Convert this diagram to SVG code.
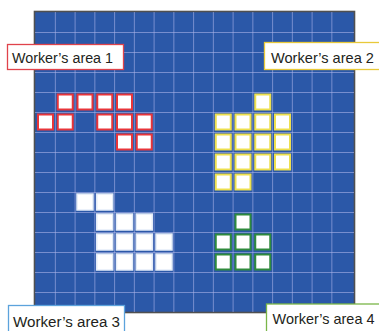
<svg xmlns="http://www.w3.org/2000/svg" width="379" height="331" viewBox="0 0 379 331">
<style>
.grid line{stroke:#aab2e8;stroke-opacity:0.6;stroke-width:1}
.sq{stroke-width:2}
.red rect.sq{fill:#fff;stroke:#e8353a}
.yel rect.sq{fill:#fff;stroke:#eee04e}
.wht rect.sq{fill:#fff;stroke:#e4ecf8;stroke-width:1.5}
.grn rect.sq{fill:#fff;stroke:#2f8a3c}
.lbl{fill:#fff;stroke-width:1.3}
.lt{font-family:"Liberation Sans","Open Sans",sans-serif;font-size:15.5px;fill:#231f20}
.rt{font-size:15px}
</style>
<rect width="379" height="331" fill="#fff"/>
<g id="board">
<rect x="34.5" y="11.5" width="320" height="301" fill="#2b58a8" stroke="#505050" stroke-width="1.6"/>
<g class="grid">
<line x1="55.35" y1="12" x2="55.35" y2="312"/>
<line x1="75.1" y1="12" x2="75.1" y2="312"/>
<line x1="94.85" y1="12" x2="94.85" y2="312"/>
<line x1="114.6" y1="12" x2="114.6" y2="312"/>
<line x1="134.35" y1="12" x2="134.35" y2="312"/>
<line x1="154.1" y1="12" x2="154.1" y2="312"/>
<line x1="173.85" y1="12" x2="173.85" y2="312"/>
<line x1="193.6" y1="12" x2="193.6" y2="312"/>
<line x1="213.35" y1="12" x2="213.35" y2="312"/>
<line x1="233.1" y1="12" x2="233.1" y2="312"/>
<line x1="252.85" y1="12" x2="252.85" y2="312"/>
<line x1="272.6" y1="12" x2="272.6" y2="312"/>
<line x1="292.35" y1="12" x2="292.35" y2="312"/>
<line x1="312.1" y1="12" x2="312.1" y2="312"/>
<line x1="331.85" y1="12" x2="331.85" y2="312"/>
<line x1="35" y1="32.5" x2="354" y2="32.5"/>
<line x1="35" y1="52.5" x2="354" y2="52.5"/>
<line x1="35" y1="72.5" x2="354" y2="72.5"/>
<line x1="35" y1="92.5" x2="354" y2="92.5"/>
<line x1="35" y1="112.5" x2="354" y2="112.5"/>
<line x1="35" y1="132.5" x2="354" y2="132.5"/>
<line x1="35" y1="152.5" x2="354" y2="152.5"/>
<line x1="35" y1="172.5" x2="354" y2="172.5"/>
<line x1="35" y1="192.5" x2="354" y2="192.5"/>
<line x1="35" y1="212.5" x2="354" y2="212.5"/>
<line x1="35" y1="232.5" x2="354" y2="232.5"/>
<line x1="35" y1="252.5" x2="354" y2="252.5"/>
<line x1="35" y1="272.5" x2="354" y2="272.5"/>
<line x1="35" y1="292.5" x2="354" y2="292.5"/>
</g>
</g>
<g id="area1" class="red">
<rect class="sq" x="57.75" y="94.5" width="15" height="15"/>
<rect class="sq" x="77.5" y="94.5" width="15" height="15"/>
<rect class="sq" x="97.25" y="94.5" width="15" height="15"/>
<rect class="sq" x="117" y="94.5" width="15" height="15"/>
<rect class="sq" x="38" y="114.5" width="15" height="15"/>
<rect class="sq" x="57.75" y="114.5" width="15" height="15"/>
<rect class="sq" x="97.25" y="114.5" width="15" height="15"/>
<rect class="sq" x="117" y="114.5" width="15" height="15"/>
<rect class="sq" x="136.75" y="114.5" width="15" height="15"/>
<rect class="sq" x="117" y="134.5" width="15" height="15"/>
<rect class="sq" x="136.75" y="134.5" width="15" height="15"/>
<rect class="lbl" x="7.5" y="44.5" width="116" height="25" stroke="#e0434b"/>
<text class="lt" x="12" y="62.5" textLength="101" lengthAdjust="spacingAndGlyphs">Worker’s area 1</text>
</g>
<g id="area2" class="yel">
<rect class="sq" x="255.25" y="94.5" width="15" height="15"/>
<rect class="sq" x="215.75" y="114.5" width="15" height="15"/>
<rect class="sq" x="235.5" y="114.5" width="15" height="15"/>
<rect class="sq" x="255.25" y="114.5" width="15" height="15"/>
<rect class="sq" x="275" y="114.5" width="15" height="15"/>
<rect class="sq" x="215.75" y="134.5" width="15" height="15"/>
<rect class="sq" x="235.5" y="134.5" width="15" height="15"/>
<rect class="sq" x="255.25" y="134.5" width="15" height="15"/>
<rect class="sq" x="275" y="134.5" width="15" height="15"/>
<rect class="sq" x="215.75" y="154.5" width="15" height="15"/>
<rect class="sq" x="235.5" y="154.5" width="15" height="15"/>
<rect class="sq" x="255.25" y="154.5" width="15" height="15"/>
<rect class="sq" x="275" y="154.5" width="15" height="15"/>
<rect class="sq" x="215.75" y="174.5" width="15" height="15"/>
<rect class="sq" x="235.5" y="174.5" width="15" height="15"/>
<rect class="lbl" x="264.5" y="42.5" width="120" height="27" stroke="#e8c93a"/>
<text class="lt rt" x="271" y="62.5" textLength="103" lengthAdjust="spacingAndGlyphs">Worker’s area 2</text>
</g>
<g id="area3" class="wht">
<rect class="sq" x="77" y="194" width="16" height="16"/>
<rect class="sq" x="96.75" y="194" width="16" height="16"/>
<rect class="sq" x="96.75" y="214" width="16" height="16"/>
<rect class="sq" x="116.5" y="214" width="16" height="16"/>
<rect class="sq" x="136.25" y="214" width="16" height="16"/>
<rect class="sq" x="96.75" y="234" width="16" height="16"/>
<rect class="sq" x="116.5" y="234" width="16" height="16"/>
<rect class="sq" x="136.25" y="234" width="16" height="16"/>
<rect class="sq" x="156" y="234" width="16" height="16"/>
<rect class="sq" x="96.75" y="254" width="16" height="16"/>
<rect class="sq" x="116.5" y="254" width="16" height="16"/>
<rect class="sq" x="136.25" y="254" width="16" height="16"/>
<rect class="sq" x="156" y="254" width="16" height="16"/>
<rect class="lbl" x="8.5" y="305.5" width="116" height="40" stroke="#5ca3dc"/>
<text class="lt" x="13" y="327" textLength="107" lengthAdjust="spacingAndGlyphs">Worker’s area 3</text>
</g>
<g id="area4" class="grn">
<rect class="sq" x="235.5" y="214.5" width="15" height="15"/>
<rect class="sq" x="215.75" y="234.5" width="15" height="15"/>
<rect class="sq" x="235.5" y="234.5" width="15" height="15"/>
<rect class="sq" x="255.25" y="234.5" width="15" height="15"/>
<rect class="sq" x="215.75" y="254.5" width="15" height="15"/>
<rect class="sq" x="235.5" y="254.5" width="15" height="15"/>
<rect class="sq" x="255.25" y="254.5" width="15" height="15"/>
<rect class="lbl" x="266.5" y="304" width="120" height="40" stroke="#7ab648"/>
<text class="lt rt" x="272.5" y="324" textLength="102" lengthAdjust="spacingAndGlyphs">Worker’s area 4</text>
</g>
<g id="connectors"/>
</svg>
